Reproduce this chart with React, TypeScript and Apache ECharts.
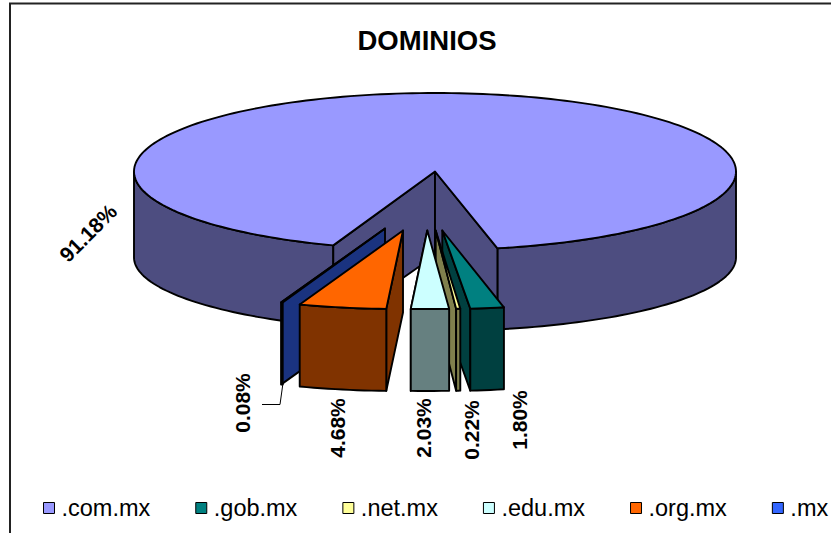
import React, { useEffect, useRef } from "react";
import * as echarts from "echarts";

const categories = [".com.mx", ".gob.mx", ".net.mx", ".edu.mx", ".org.mx", ".mx"];
const shares = [91.18, 1.8, 0.22, 2.03, 4.68, 0.08];
const title = "DOMINIOS";

const topColors = ["#9999ff", "#008080", "#ffff99", "#ccffff", "#ff6600", "#3366ff"];
const wallColors = ["#4d4d80", "#004040", "#80804d", "#668080", "#803300", "#1a3380"];

// Drawing layout of the tilted disc
const FONT = "Liberation Sans, Arial, sans-serif";
const CX = 435;
const CY = 171.5;
const RX = 301;
const RY = 78.5;
const SIDE_DEPTH = 86;
const FRONT_DEPTH = 81;
const SLICE_DEPTH = 82;
const FIRST_ANGLE = 199.75; // degrees clockwise from the top of the disc
const drawOrder = [0, 2, 3, 5, 4, 1]; // z per category
// explosion of each slice: offset of the rim, offset of the apex, common vertical offset
const rimDx = [0, 6.5, -3.5, -10.5, -35, -52];
const apexDx = [0, 7.3, 0.7, -7.7, -32, -50];
const sliceDy = [0, 59, 59, 59, 59, 57];
const labelPos: [number, number, number][] = [
  [88, 233, 45],
  [519, 420, 90],
  [471, 430, 90],
  [423, 428, 90],
  [337, 428, 90],
  [242, 403, 90],
];

const total = shares.reduce((a, b) => a + b, 0);
const spans = shares.map((v) => (v / total) * 360);
const starts = spans.map((_, i) => FIRST_ANGLE + spans.slice(0, i).reduce((a, b) => a + b, 0));

const rim = (deg: number, ox = 0, oy = 0): [number, number] => {
  const r = (deg * Math.PI) / 180;
  return [CX + ox + RX * Math.sin(r), CY + oy - RY * Math.cos(r)];
};
const arc = (from: number, to: number, ox = 0, oy = 0) => {
  const n = Math.max(2, Math.ceil(Math.abs(to - from) / 1.5));
  const pts: [number, number][] = [];
  for (let i = 0; i <= n; i++) pts.push(rim(from + ((to - from) * i) / n, ox, oy));
  return pts;
};
// main disc: its lower rim is a little flatter than its upper rim
const dropMain = (p: [number, number]): [number, number] => {
  const f = Math.min(1, Math.max(0, (p[1] - CY) / RY));
  return [p[0], p[1] + SIDE_DEPTH + (FRONT_DEPTH - SIDE_DEPTH) * f];
};
const dropSlice = (pts: [number, number][]) =>
  pts.map(([x, y]) => [x, y + SLICE_DEPTH] as [number, number]);

const edge = (fill: string) => ({ fill, stroke: "#000", lineWidth: 1.9, lineJoin: "round" });
const poly = (points: [number, number][], fill: string) => ({
  type: "polygon",
  shape: { points },
  style: edge(fill),
});

const makeRender = (i: number) => () => {
  const from = starts[i];
  const to = from + spans[i];
  const top = topColors[i];
  const wall = wallColors[i];
  const children: any[] = [];
  if (i === 0) {
    const apex: [number, number] = [CX, CY];
    const apexB: [number, number] = [CX, CY + SIDE_DEPTH - 2];
    const a = arc(from, 270);
    children.push(poly([...a, ...a.map(dropMain).reverse()], wall));
    const b = arc(90, to - 360);
    children.push(poly([...b, ...b.map(dropMain).reverse()], wall));
    const s = rim(from);
    const e = rim(to);
    children.push(poly([apex, s, dropMain(s), apexB], wall));
    children.push(poly([apex, e, dropMain(e), apexB], wall));
    children.push(poly([apex, ...arc(from, to)], top));
  } else {
    const dy = sliceDy[i];
    const apex: [number, number] = [CX + apexDx[i], CY + dy];
    const apexB: [number, number] = [apex[0], apex[1] + SLICE_DEPTH];
    const curve = arc(from, to, rimDx[i], dy);
    const left = curve[curve.length - 1];
    const right = curve[0];
    // wedge wall on the side that faces the viewer
    const cutSide = i === 4 ? right : left;
    if (i === 5) {
      children.push(poly([apex, left, [left[0], left[1] + SLICE_DEPTH], apexB], wall));
    } else {
      children.push(poly([apex, cutSide, [cutSide[0], cutSide[1] + SLICE_DEPTH], apexB], wall));
    }
    children.push(poly([...curve, ...dropSlice(curve).reverse()], wall));
    children.push(poly([apex, ...curve], top));
  }
  const [lx, ly, rot] = labelPos[i];
  children.push({
    type: "text",
    x: lx,
    y: ly,
    rotation: (rot * Math.PI) / 180,
    style: {
      text: `${shares[i].toFixed(2)}%`,
      fontFamily: FONT,
      fontSize: 21,
      fontWeight: "bold",
      fill: "#000",
      align: "center",
      verticalAlign: "middle",
    },
  });
  return { type: "group", children };
};

export default function App() {
  const ref = useRef<HTMLDivElement>(null);
  useEffect(() => {
    const chart = echarts.init(ref.current!, undefined, { renderer: "svg" });
    chart.setOption({
      animation: false,
      backgroundColor: "#fff",
      title: {
        text: title,
        left: 422,
        top: 21,
        textAlign: "center",
        textStyle: { fontFamily: FONT, fontSize: 27.5, fontWeight: "bold", color: "#000" },
      },
      legend: {
        left: 43,
        top: 496,
        width: 788,
        padding: 0,
        itemGap: 45,
        itemWidth: 11,
        itemHeight: 11,
        icon: "rect",
        data: categories.map((name) => ({
          name,
          itemStyle: { borderColor: "#000", borderWidth: 1 },
        })),
        textStyle: { fontFamily: FONT, fontSize: 23.5, color: "#000", padding: [0, 0, 0, 2] },
      },
      graphic: [
        {
          type: "polyline",
          silent: true,
          shape: { points: [[10, 533], [10, 3.5], [831, 3.5]] },
          style: { stroke: "#222", lineWidth: 2, fill: "none" },
        },
        {
          type: "polyline",
          silent: true,
          z: 20,
          shape: { points: [[262, 404.5], [280, 404.5], [283, 383]] },
          style: { stroke: "#000", lineWidth: 1, fill: "none" },
        },
      ],
      series: categories.map((name, i) => ({
        type: "custom",
        name,
        coordinateSystem: "none",
        z: 2 + drawOrder[i],
        silent: true,
        itemStyle: { color: topColors[i] },
        data: [shares[i]],
        renderItem: makeRender(i),
      })),
    });
    return () => chart.dispose();
  }, []);
  return <div ref={ref} style={{ position: "fixed", left: 0, top: 0, width: 831, height: 533 }} />;
}
